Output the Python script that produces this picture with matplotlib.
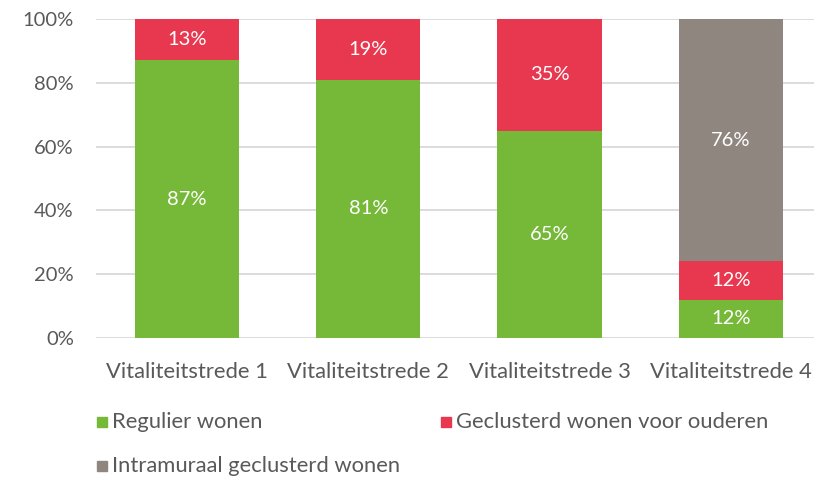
import matplotlib
matplotlib.use("Agg")
import matplotlib.pyplot as plt
from matplotlib.patches import Rectangle
import numpy as np

plt.rcParams['font.family'] = ['Lato', 'DejaVu Sans']

categories = ["Vitaliteitstrede 1", "Vitaliteitstrede 2", "Vitaliteitstrede 3", "Vitaliteitstrede 4"]
regulier = [87, 81, 65, 12]
geclusterd = [13, 19, 35, 12]
intramuraal = [0, 0, 0, 76]
series_names = ["Regulier wonen", "Geclusterd wonen voor ouderen", "Intramuraal geclusterd wonen"]
colors = ["#76B837", "#E8384F", "#8F8680"]
text_grey = "#595959"

fig = plt.figure(figsize=(8.14, 4.78), dpi=100)
ax = fig.add_axes([96 / 814, 1 - 338 / 478, 1 - 96 / 814, (338 - 19) / 478])

x = np.arange(len(categories))
width = 0.575
bottom = np.zeros(len(categories))
for vals, col in zip([regulier, geclusterd, intramuraal], colors):
    vals = np.array(vals, dtype=float)
    ax.bar(x, vals, width, bottom=bottom, color=col, zorder=3)
    for xi, v, b in zip(x, vals, bottom):
        if v > 0:
            ax.text(xi, b + v / 2, f"{int(v)}%", ha="center", va="center",
                    color="white", fontsize=14.5, zorder=4)
    bottom += vals

ax.set_xlim(-0.503, 3.459)
ax.set_ylim(0, 100)
ax.set_yticks(range(0, 101, 20))
ax.set_yticklabels([f"{t}%" for t in range(0, 101, 20)])
ax.set_xticks(x)
ax.set_xticklabels(categories)
ax.tick_params(axis="both", length=0, colors=text_grey)
ax.tick_params(axis="y", labelsize=14.5, pad=16)
ax.tick_params(axis="x", labelsize=15.8, pad=17)
ax.yaxis.grid(True, color="#D9D9D9", linewidth=1.3, zorder=0)
for s in ax.spines.values():
    s.set_visible(False)

# legend drawn by hand to match the layout
legend_pos = [(97, 422), (441, 422), (97, 466)]
for (px, py), name, col in zip(legend_pos, series_names, colors):
    fig.patches.append(Rectangle((px / 814, 1 - (py + 5) / 478), 10 / 814, 10 / 478,
                                 transform=fig.transFigure, color=col))
    fig.text((px + 15) / 814, 1 - py / 478, name, ha="left", va="center",
             fontsize=15.8, color=text_grey)

fig.savefig("out.png", dpi=100)
